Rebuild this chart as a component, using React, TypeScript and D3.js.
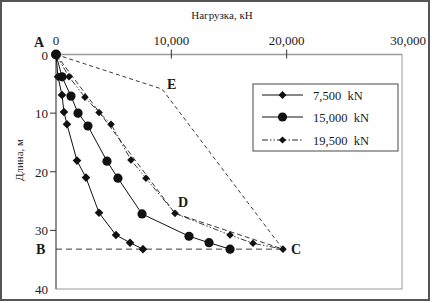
import * as d3 from "d3";

// load (kN) and depth (m)
const depth = [0, 3.8, 6.9, 9.8, 11.9, 18.1, 21.0, 27.0, 30.8, 32.1, 33.2];
const load7500 = [0, 170, 520, 690, 950, 1820, 2600, 3730, 5200, 6420, 7540];
const depth15000 = [0, 3.8, 7.1, 10.0, 12.2, 18.2, 21.1, 27.2, 31.0, 32.1, 33.2];
const load15000 = [0, 520, 1300, 1910, 2770, 4420, 5370, 7460, 11530, 13270, 15090];
const depth19500 = [0, 3.8, 7.3, 9.9, 11.9, 18.0, 21.1, 27.1, 30.8, 32.2, 33.2];
const load19500 = [0, 1130, 2510, 3730, 4770, 6500, 7800, 10320, 15090, 17080, 19680];

// reference points A, E, D, C, B
const refNames = ["A", "E", "D", "C", "B"];
const refLoad = [0, 9200, 10320, 19680, 0];
const refDepth = [0, 5.9, 27.1, 33.2, 33.2];

const xTicks = [0, 10000, 20000, 30000];
const yTicks = [0, 10, 20, 30, 40];
const legendLabels = ["7,500  kN", "15,000  kN", "19,500  kN"];

const W = 445, H = 303;
const font = "'Liberation Serif', 'DejaVu Serif', serif";

function diamond(cx: number, cy: number, r: number) {
  return `M${cx},${cy - r}L${cx + r},${cy}L${cx},${cy + r}L${cx - r},${cy}Z`;
}

export default function App() {
  const x = d3.scaleLinear().domain([0, 30000]).range([56, 402]);
  const y = d3.scaleLinear().domain([0, 40]).range([54.5, 289]);

  const line = d3.line<[number, number]>()
    .x(d => x(d[0]))
    .y(d => y(d[1]));

  const s1 = load7500.map((v, i) => [v, depth[i]] as [number, number]);
  const s2 = load15000.map((v, i) => [v, depth15000[i]] as [number, number]);
  const s3 = load19500.map((v, i) => [v, depth19500[i]] as [number, number]);

  const pt = (n: string) => {
    const i = refNames.indexOf(n);
    return [refLoad[i], refDepth[i]] as [number, number];
  };
  const aec = [pt("A"), pt("E"), pt("C")];
  const adc = [pt("A"), pt("D"), pt("C")];
  const bc = [pt("B"), pt("C")];

  const ink = "#1a1a1a";
  const [x0, x1] = x.range();
  const [y0, y1] = y.range();

  const legX = 253, legY = 84;
  const rows = [95, 117, 140];

  return (
    <svg width={W} height={H} style={{ position: "absolute", left: 0, top: 0, background: "#fff" }}
      fontFamily={font}>
      <rect x={1} y={1} width={428} height={299} fill="#fff" stroke="#555" strokeWidth={2} />

      {/* plot frame */}
      <rect x={x0} y={y0} width={x1 - x0} height={y1 - y0} fill="none" stroke="#9a9a9a" strokeWidth={1} />
      <line x1={x0} x2={x1} y1={y0} y2={y0} stroke="#9a9a9a" strokeWidth={1.5} />
      <line x1={x0} x2={x0} y1={y0} y2={y1} stroke="#555" strokeWidth={1} />

      {/* top axis */}
      {xTicks.map(t => (
        <g key={t}>
          {t > 0 && t < 30000 && (
            <line x1={x(t)} x2={x(t)} y1={y0 - 5} y2={y0 + 4} stroke="#333" strokeWidth={1} />
          )}
          <text x={t === 30000 ? x(t) + 6 : x(t)} y={45} fontSize={13} textAnchor="middle" fill={ink}>
            {d3.format(",")(t)}
          </text>
        </g>
      ))}
      <text x={222} y={19} fontSize={11} textAnchor="middle" fill={ink}>Нагрузка, кН</text>

      {/* left axis */}
      {yTicks.map(t => (
        <g key={t}>
          {t > 0 && t < 40 && (
            <line x1={x0 - 6} x2={x0} y1={y(t)} y2={y(t)} stroke="#333" strokeWidth={1} />
          )}
          <text x={48} y={y(t) + 5} fontSize={13} textAnchor="end" fill={ink}>{t}</text>
        </g>
      ))}
      <text transform={`translate(23,160) rotate(-90)`} fontSize={11} textAnchor="middle" fill={ink}>Длина, м</text>

      {/* reference lines */}
      <path d={line(aec) || ""} fill="none" stroke="#222" strokeWidth={0.9} strokeDasharray="4,3" />
      <path d={line(adc) || ""} fill="none" stroke="#222" strokeWidth={0.9} strokeDasharray="5,3" />
      <path d={line(bc) || ""} fill="none" stroke="#222" strokeWidth={0.9} strokeDasharray="6,4" />

      {/* series */}
      <path d={line(s1) || ""} fill="none" stroke="#111" strokeWidth={1} />
      <path d={line(s2) || ""} fill="none" stroke="#111" strokeWidth={1} />
      <path d={line(s3) || ""} fill="none" stroke="#222" strokeWidth={0.9} strokeDasharray="6,2,1.5,2,1.5,2" />

      {s3.slice(1).map((d, i) => (
        <path key={"c" + i} d={diamond(x(d[0]), y(d[1]), 3.8)} fill="#111" />
      ))}
      {s2.slice(1).map((d, i) => (
        <circle key={"b" + i} cx={x(d[0])} cy={y(d[1])} r={4.6} fill="#111" />
      ))}
      {s1.slice(1).map((d, i) => (
        <path key={"a" + i} d={diamond(x(d[0]), y(d[1]), 4.3)} fill="#111" />
      ))}
      <circle cx={x(0)} cy={y(0)} r={5} fill="#111" />

      {/* point labels */}
      <g fontSize={14} fontWeight="bold" fill={ink}>
        <text x={34} y={47}>A</text>
        <text x={x(pt("E")[0]) + 5} y={y(pt("E")[1]) - 0}>E</text>
        <text x={x(pt("D")[0]) + 3} y={y(pt("D")[1]) - 6}>D</text>
        <text x={x(pt("C")[0]) + 8} y={y(pt("C")[1]) + 5}>C</text>
        <text x={36} y={y(pt("B")[1]) + 5}>B</text>
      </g>

      {/* legend */}
      <rect x={legX} y={legY} width={145} height={67} fill="#fff" stroke="#666" strokeWidth={1.2} />
      {legendLabels.map((lab, i) => (
        <g key={lab}>
          <line x1={262} x2={303} y1={rows[i]} y2={rows[i]} stroke="#111" strokeWidth={i === 2 ? 0.9 : 1}
            strokeDasharray={i === 2 ? "6,2,1.5,2,1.5,2" : undefined} />
          {i === 1
            ? <circle cx={282.5} cy={rows[i]} r={4.6} fill="#111" />
            : <path d={diamond(282.5, rows[i], i === 0 ? 4 : 3.6)} fill="#111" />}
          <text x={313} y={rows[i] + 4.5} fontSize={12.5} fill={ink} style={{ whiteSpace: "pre" }}>{lab}</text>
        </g>
      ))}
    </svg>
  );
}
